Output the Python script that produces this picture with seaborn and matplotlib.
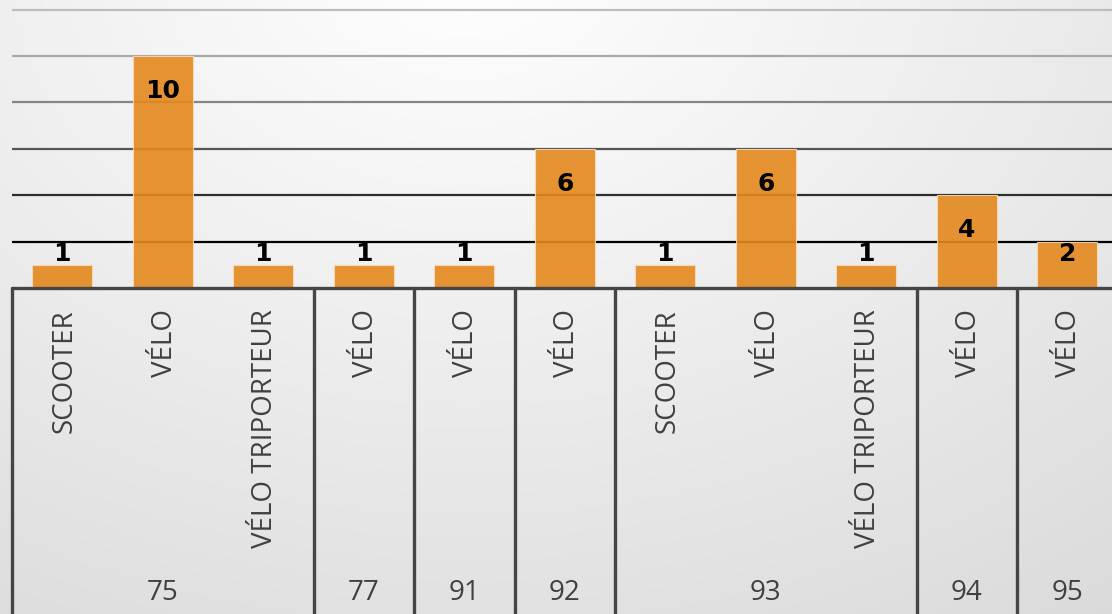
import numpy as np
import pandas as pd
import matplotlib
matplotlib.use("Agg")
import matplotlib.pyplot as plt
import seaborn as sns

# ---- data ----
groups = ["75", "75", "75", "77", "91", "92", "93", "93", "93", "94", "95"]
types = ["SCOOTER", "VÉLO", "VÉLO TRIPORTEUR", "VÉLO", "VÉLO", "VÉLO",
         "SCOOTER", "VÉLO", "VÉLO TRIPORTEUR", "VÉLO", "VÉLO"]
values = [1, 10, 1, 1, 1, 6, 1, 6, 1, 4, 2]
grid_ticks = [2, 4, 6, 8, 10, 12]

sns.set_theme(style="white")
plt.rcParams['font.family'] = ['Open Sans', 'DejaVu Sans']

W, H = 1112, 614
fig = plt.figure(figsize=(W / 100, H / 100), dpi=100)

# background gradient
bg = fig.add_axes([0, 0, 1, 1], zorder=-10)
yy, xx = np.mgrid[0:1:200j, 0:1:360j]
d = np.sqrt(((xx - 0.42) * 1.3) ** 2 + (yy + 0.05) ** 2)
val = np.clip(1.0 - 0.11 * d, 0, 1)
img = np.dstack([val, val, val])
bg.imshow(img, aspect='auto', extent=[0, 1, 1, 0], interpolation='bicubic')
bg.set_axis_off()

df = pd.DataFrame({"cat": [f"{g}|{t}|{i}" for i, (g, t) in enumerate(zip(groups, types))],
                   "group": groups, "type": types, "value": values})

n = len(values)
unit_px = 100.5
left_px = 12
base_px = 288
ppu = 23.2  # pixels per value unit
top_val = base_px / ppu

ax = fig.add_axes([left_px / W, 1 - base_px / H, n * unit_px / W, base_px / H])
ax.patch.set_alpha(0)

grid_colors = {2: "#000000", 4: "#2e2e2e", 6: "#555555", 8: "#858585", 10: "#a8a8a8", 12: "#bdbdbd"}
for t in grid_ticks:
    ax.axhline(t, color=grid_colors[t], lw=1.6, zorder=0.5)

sns.barplot(data=df, x="cat", y="value", order=list(df["cat"]), ax=ax,
            color="#E4881D", alpha=0.9, width=0.6, saturation=1,
            edgecolor="#f7dcb8", linewidth=0.8, zorder=2)

for i, v in enumerate(values):
    ypos = max(v - 1.5, 1.45)
    ax.text(i, ypos, str(v), ha="center", va="center", fontsize=18,
            fontweight="bold", color="black", family="DejaVu Sans", zorder=5)

ax.set_xlim(-0.5, n - 0.5)
ax.set_ylim(0, top_val)
ax.set_xticks([])
ax.set_yticks([])
ax.set_xlabel("")
ax.set_ylabel("")
for s in ax.spines.values():
    s.set_visible(False)

# lower category axis
ax2 = fig.add_axes([left_px / W, 0, n * unit_px / W, (H - base_px) / H])
ax2.patch.set_alpha(0)
ax2.set_xlim(-0.5, n - 0.5)
ax2.set_ylim(0, 1)
ax2.set_xticks([])
ax2.set_yticks([])
for s in ax2.spines.values():
    s.set_visible(False)
line_col = "#454545"
ax2.axhline(1, color=line_col, lw=2.4, clip_on=False)

# group boundaries
bounds = [-0.5]
for i in range(1, n):
    if groups[i] != groups[i - 1]:
        bounds.append(i - 0.5)
bounds.append(n - 0.5)
for b in bounds:
    ax2.axvline(b, color=line_col, lw=2.4, clip_on=False)

for i, t in enumerate(types):
    ax2.text(i + 0.02, 1 - 21 / (H - base_px), t, rotation=90, ha="center", va="top",
             fontsize=20, color="#404040")

# group labels
start = 0
for i in range(1, n + 1):
    if i == n or groups[i] != groups[start]:
        c = (start + i - 1) / 2
        ax2.text(c, (H - 590) / (H - base_px), groups[start], ha="center",
                 va="center_baseline", fontsize=20, color="#404040")
        start = i

fig.savefig("out.png", dpi=100)
